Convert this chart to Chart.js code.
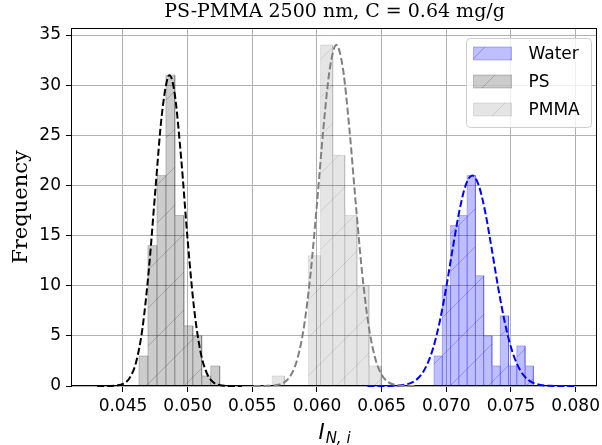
<!DOCTYPE html>
<html>
<head>
<meta charset="utf-8">
<script src="https://cdn.jsdelivr.net/npm/chart.js@4.4.0/dist/chart.umd.min.js"></script>
<style>
    html, body { margin: 0; padding: 0; background: #fff; }
    #chart { display: block; }
</style>
</head>
<body>
<canvas id="chart" width="602" height="445"></canvas>
<script>
// histogram bin edges + counts
const psEdges = [0.04624, 0.04693, 0.04763, 0.04832, 0.04901, 0.04971, 0.05040, 0.05109, 0.05179, 0.05248];
const psCounts = [3, 14, 21, 31, 17, 6, 5, 1, 2];
const pmmaEdges = [0.05654, 0.05748, 0.05841, 0.05935, 0.06028, 0.06122, 0.06215, 0.06309, 0.06402, 0.06496];
const pmmaCounts = [1, 0, 0, 13, 34, 23, 17, 10, 2];
const waterEdges = [0.06905, 0.06969, 0.07033, 0.07097, 0.07161, 0.07225, 0.07289, 0.07353, 0.07417, 0.07481, 0.07545, 0.07609, 0.07673];
const waterCounts = [3, 10, 16, 17, 21, 11, 5, 2, 7, 2, 4, 2];

// dashed fit curves, sampled from the plot
const psFitX = [0.0430, 0.0440, 0.0445, 0.0450, 0.0455, 0.0460, 0.0465, 0.0470, 0.0475, 0.0480, 0.0485, 0.0486, 0.0490, 0.0495, 0.0500, 0.0505, 0.0510, 0.0515, 0.0520, 0.0525, 0.0530, 0.0535, 0.0542];
const psFitY = [0.00, 0.01, 0.05, 0.21, 0.77, 2.30, 5.68, 11.58, 19.46, 26.99, 30.88, 31.00, 29.15, 22.70, 14.58, 7.73, 3.38, 1.22, 0.36, 0.09, 0.02, 0.00, 0.00];
const pmmaFitX = [0.0551, 0.0560, 0.0570, 0.0575, 0.0580, 0.0585, 0.0590, 0.0595, 0.0600, 0.0605, 0.0610, 0.0615, 0.0620, 0.0625, 0.0630, 0.0635, 0.0640, 0.0645, 0.0650, 0.0655, 0.0660, 0.0670, 0.0677];
const pmmaFitY = [0.00, 0.01, 0.12, 0.39, 1.12, 2.77, 5.96, 11.16, 18.17, 25.74, 31.71, 34.00, 31.71, 25.74, 18.17, 11.16, 5.96, 2.77, 1.12, 0.39, 0.12, 0.01, 0.00];
const waterFitX = [0.0639, 0.0650, 0.0660, 0.0665, 0.0670, 0.0675, 0.0680, 0.0685, 0.0690, 0.0695, 0.0700, 0.0705, 0.0710, 0.0715, 0.0720, 0.0725, 0.0730, 0.0735, 0.0740, 0.0745, 0.0750, 0.0755, 0.0760, 0.0765, 0.0770, 0.0780, 0.0790, 0.0800];
const waterFitY = [0.00, 0.00, 0.02, 0.07, 0.19, 0.46, 1.03, 2.10, 3.86, 6.48, 9.89, 13.75, 17.40, 20.03, 21.00, 20.03, 17.40, 13.75, 9.89, 6.48, 3.86, 2.10, 1.03, 0.46, 0.19, 0.02, 0.00, 0.00];

const xTicks = [0.045, 0.050, 0.055, 0.060, 0.065, 0.070, 0.075, 0.080];
const yTicks = [0, 5, 10, 15, 20, 25, 30, 35];
const titleText = 'PS-PMMA 2500 nm, C = 0.64 mg/g';

const canvas = document.getElementById('chart');
const mainCtx = canvas.getContext('2d');

Chart.defaults.font.family = "'DejaVu Sans', sans-serif";
Chart.defaults.color = '#000';

// '/' hatch on top of a translucent face colour
function hatchPattern(rgba){
    const size = 38;
    const tile = document.createElement('canvas');
    tile.width = size;
    tile.height = size;
    const t = tile.getContext('2d');
    t.fillStyle = rgba;
    t.fillRect(0, 0, size, size);
    t.strokeStyle = rgba;
    t.lineWidth = 1;
    t.beginPath();
    t.moveTo(0, size); t.lineTo(size, 0);
    t.moveTo(-1, 1); t.lineTo(1, -1);
    t.moveTo(size - 1, size + 1); t.lineTo(size + 1, size - 1);
    t.stroke();
    return mainCtx.createPattern(tile, 'repeat');
}

function histPoints(edges, counts){
    const pts = [{x: edges[0], y: 0}];
    counts.forEach((c, i) => {
        pts.push({x: edges[i], y: c});
        pts.push({x: edges[i + 1], y: c});
        pts.push({x: edges[i + 1], y: 0});
    });
    return pts;
}

function histDataset(label, edges, counts, rgba){
    return {
        label: label,
        isHist: true,
        data: histPoints(edges, counts),
        backgroundColor: hatchPattern(rgba),
        borderColor: rgba,
        borderWidth: 1,
        borderJoinStyle: 'miter',
        fill: 'origin',
        pointRadius: 0,
        tension: 0,
        order: 2
    };
}

function fitDataset(xs, ys, color){
    return {
        label: '',
        data: xs.map((x, i) => ({x: x, y: ys[i]})),
        borderColor: color,
        borderWidth: 2,
        borderDash: [7, 3],
        fill: false,
        pointRadius: 0,
        cubicInterpolationMode: 'monotone',
        clip: 4,
        order: 1
    };
}

// black box round the axes (under the curves so the flat tails stay visible)
const frame = {
    id: 'frame',
    beforeDatasetsDraw(chart){
        const {ctx, chartArea: a} = chart;
        ctx.save();
        ctx.strokeStyle = '#000';
        ctx.lineWidth = 1;
        ctx.strokeRect(Math.round(a.left) - 0.5, Math.round(a.top) + 0.5,
            Math.round(a.right) - Math.round(a.left), Math.round(a.bottom) - Math.round(a.top) - 1);
        ctx.restore();
    }
};

// x label with subscript: I_{N,i}
const xLabel = {
    id: 'xLabel',
    afterDraw(chart){
        const {ctx, chartArea: a} = chart;
        ctx.save();
        ctx.fillStyle = '#000';
        ctx.textBaseline = 'alphabetic';
        ctx.font = "italic 21px 'DejaVu Sans'";
        const w1 = ctx.measureText('I').width;
        ctx.font = "italic 15px 'DejaVu Sans'";
        const w2 = ctx.measureText('N, i').width;
        const x = (a.left + a.right) / 2 - (w1 + w2 + 1) / 2;
        ctx.font = "italic 21px 'DejaVu Sans'";
        ctx.fillText('I', x, 439);
        ctx.font = "italic 15px 'DejaVu Sans'";
        ctx.fillText('N, i', x + w1 + 1, 443);
        ctx.restore();
    }
};

// legend box in the upper right corner of the axes
const legendBox = {
    id: 'legendBox',
    afterDraw(chart){
        const {ctx, chartArea: a} = chart;
        const items = chart.data.datasets.filter(d => d.isHist);
        const w = 125, rowH = 28;
        const h = items.length * rowH + 5;
        const x0 = a.right - w - 5.5;
        const y0 = a.top + 10.5;
        ctx.save();
        ctx.beginPath();
        ctx.roundRect(x0, y0, w, h, 4);
        ctx.fillStyle = 'rgba(255,255,255,0.8)';
        ctx.fill();
        ctx.strokeStyle = '#cccccc';
        ctx.lineWidth = 1;
        ctx.stroke();
        ctx.font = "17px 'DejaVu Sans'";
        ctx.textBaseline = 'middle';
        ctx.fillStyle = '#000';
        items.forEach((d, i) => {
            const cy = y0 + 15 + i * rowH;
            ctx.fillStyle = d.backgroundColor;
            ctx.fillRect(x0 + 7, cy - 6.5, 38, 13);
            ctx.strokeStyle = d.borderColor;
            ctx.strokeRect(x0 + 7, cy - 6.5, 38, 13);
            ctx.fillStyle = '#000';
            ctx.fillText(d.label, x0 + 62, cy + 1);
        });
        ctx.restore();
    }
};

new Chart(canvas, {
    type: 'line',
    data: {
        datasets: [
            histDataset('Water', waterEdges, waterCounts, 'rgba(0,0,255,0.25)'),
            histDataset('PS', psEdges, psCounts, 'rgba(0,0,0,0.2)'),
            histDataset('PMMA', pmmaEdges, pmmaCounts, 'rgba(0,0,0,0.1)'),
            fitDataset(psFitX, psFitY, '#000000'),
            fitDataset(pmmaFitX, pmmaFitY, '#808080'),
            fitDataset(waterFitX, waterFitY, '#0000ff')
        ]
    },
    options: {
        responsive: false,
        animation: false,
        devicePixelRatio: 1,
        layout: {padding: {left: 0, right: 5, top: 0, bottom: 0}},
        plugins: {
            legend: {display: false},
            tooltip: {enabled: false},
            title: {
                display: true,
                text: titleText,
                fullSize: false,
                color: '#000',
                font: {family: "'DejaVu Serif', serif", size: 19, weight: 'normal'},
                padding: {top: 1, bottom: 4.2}
            }
        },
        scales: {
            x: {
                type: 'linear',
                bounds: 'data',
                min: 0.04106,
                max: 0.08165,
                border: {display: false},
                grid: {color: '#b0b0b0', lineWidth: 1, tickLength: 6, tickColor: '#000'},
                ticks: {
                    font: {size: 17},
                    color: '#000',
                    padding: 4,
                    autoSkip: false,
                    maxRotation: 0,
                    callback: v => v.toFixed(3)
                },
                afterBuildTicks: s => { s.ticks = xTicks.map(v => ({value: v})); },
                afterFit: s => { s.height = 59; s.paddingLeft = 0; s.paddingRight = 0; }
            },
            y: {
                type: 'linear',
                bounds: 'data',
                min: 0,
                max: 35.7,
                border: {display: false},
                grid: {color: '#b0b0b0', lineWidth: 1, tickLength: 6, tickColor: '#000'},
                ticks: {font: {size: 17}, color: '#000', padding: 5, autoSkip: false},
                title: {
                    display: true,
                    text: 'Frequency',
                    color: '#000',
                    font: {family: "'DejaVu Serif', serif", size: 21, weight: 'normal'},
                    padding: {top: 9, bottom: 0}
                },
                afterBuildTicks: s => { s.ticks = yTicks.map(v => ({value: v})); },
                afterFit: s => { s.width = 72; s.paddingTop = 0; s.paddingBottom = 0; }
            }
        }
    },
    plugins: [frame, xLabel, legendBox]
});
</script>
</body>
</html>
